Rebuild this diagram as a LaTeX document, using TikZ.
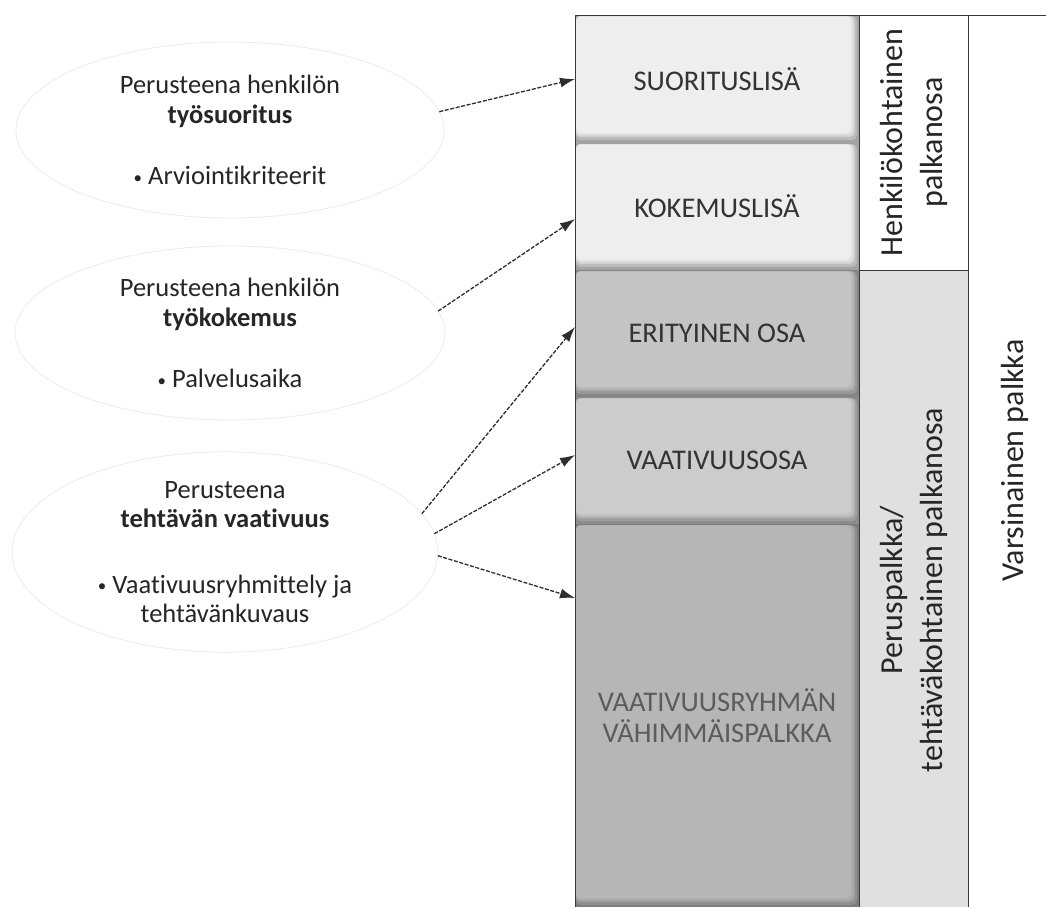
\documentclass[tikz,border=0pt]{standalone}
\usepackage{fontspec}
\setmainfont{Carlito}[Ligatures=NoCommon]
\usetikzlibrary{arrows.meta,shapes.geometric,calc}
\definecolor{txt}{HTML}{262626}
\definecolor{boxtxt}{HTML}{333333}
\definecolor{lightbox}{HTML}{EEEEEE}
\definecolor{midbox}{HTML}{C4C4C4}
\definecolor{vaabox}{HTML}{CCCCCC}
\definecolor{darkbox}{HTML}{B6B6B6}
\definecolor{colgray}{HTML}{E0E0E0}
\definecolor{arrowc}{HTML}{2E2E2E}
\definecolor{ellc}{HTML}{EAEAEA}
\definecolor{framec}{HTML}{3A3A3A}
\newcommand{\smallbullet}{{\fontsize{17}{17}\selectfont\raisebox{1.5pt}{•}}}
\tikzset{
  bevel/.style={rectangle, draw=none, minimum width=284pt, inner sep=0pt, outer sep=0pt,
    text=boxtxt, font=\fontsize{28.5}{31}\selectfont, align=center,
    path picture={
      \fill[#1!68!black] (path picture bounding box.south west) rectangle (path picture bounding box.north east);
      \fill[#1!78!black, rounded corners=5pt] ([shift={(0.5pt,-1pt)}]path picture bounding box.north west) rectangle ([shift={(-2pt,3pt)}]path picture bounding box.south east);
      \fill[#1!88!black, rounded corners=5pt] ([shift={(0.5pt,-1pt)}]path picture bounding box.north west) rectangle ([shift={(-4pt,6pt)}]path picture bounding box.south east);
      \fill[#1!95!black, rounded corners=5pt] ([shift={(0.5pt,-1pt)}]path picture bounding box.north west) rectangle ([shift={(-6pt,8pt)}]path picture bounding box.south east);
      \fill[#1, rounded corners=5pt] ([shift={(1pt,-1.5pt)}]path picture bounding box.north west) rectangle ([shift={(-8pt,10pt)}]path picture bounding box.south east);
    }},
  ell/.style={ellipse, draw=ellc, line width=0.7pt, inner sep=0pt, outer sep=0pt, align=center,
    text=txt, font=\fontsize{26.5}{29.5}\selectfont},
  colbox/.style={rectangle, rotate=90, inner sep=0pt, outer sep=0pt, minimum height=109pt,
    align=center, text=txt, font=\fontsize{32}{40}\selectfont},
  conn/.style={draw=arrowc, line width=1.3pt, dash pattern=on 4pt off 1.6pt,
    -{Latex[length=15pt,width=10pt]}},
  frame/.style={draw=framec, line width=1pt},
}
\begin{document}
\begin{tikzpicture}[x=1pt,y=-1pt]
\useasboundingbox (0,0) rectangle (1046,906);
\fill[white] (0,0) rectangle (1046,906);

% right columns
\node[colbox, minimum width=255pt, fill=white, draw=framec, line width=1pt] (hk) at (913.5,142.5) {Henkilökohtainen\\palkanosa};
\node[colbox, minimum width=640pt, fill=colgray, draw=framec, line width=1pt] (pp) at (913.5,590) {Peruspalkka/\\tehtäväkohtainen palkanosa};
\node[colbox, minimum width=891pt, minimum height=94pt, draw=none] (vp) at (1015,460.5) {Varsinainen palkka};

% stacked boxes
\node[bevel=lightbox, minimum height=128pt] (b1) at (717,79) {SUORITUSLISÄ};
\node[bevel=lightbox, minimum height=127pt] (b2) at (717,206.5) {KOKEMUSLISÄ};
\node[bevel=midbox, minimum height=127pt] (b3) at (717,333.5) {ERITYINEN OSA};
\node[bevel=vaabox, minimum height=127pt] (b4) at (717,460.5) {VAATIVUUSOSA};
\node[bevel=darkbox, minimum height=384pt, text=boxtxt!80!white] (b5) at (717,716) {VAATIVUUSRYHMÄN\\VÄHIMMÄISPALKKA};

% frame lines
\coordinate (topright) at (1046,15);
\draw[frame] (b1.north west) -- (topright);
\draw[frame] (b1.north west) -- (b5.south west);

% ellipses
\node[ell, minimum width=428pt, minimum height=176pt] (e1) at (230,130)
  {Perusteena henkilön\\\textbf{työsuoritus}\\[32pt]\smallbullet\ Arviointikriteerit};
\node[ell, minimum width=430pt, minimum height=174pt] (e2) at (230,333)
  {Perusteena henkilön\\\textbf{työkokemus}\\[32pt]\smallbullet\ Palvelusaika};
\node[ell, minimum width=426pt, minimum height=192pt] (e3) at (225,552)
  {Perusteena\\\textbf{tehtävän vaativuus}\\[36pt]\smallbullet\ Vaativuusryhmittely ja\\tehtävänkuvaus};

% connectors
\draw[conn] (e1.5) -- (b1.west);
\draw[conn] (e2.6) -- ([yshift=-12.5pt]b2.west);
\draw[conn] (e3.11.5) -- ([yshift=6.5pt]b3.west);
\draw[conn] (e3.5.5) -- ([yshift=5.5pt]b4.west);
\draw[conn] (e3.-1) -- ([yshift=118pt]b5.west);
\end{tikzpicture}
\end{document}
